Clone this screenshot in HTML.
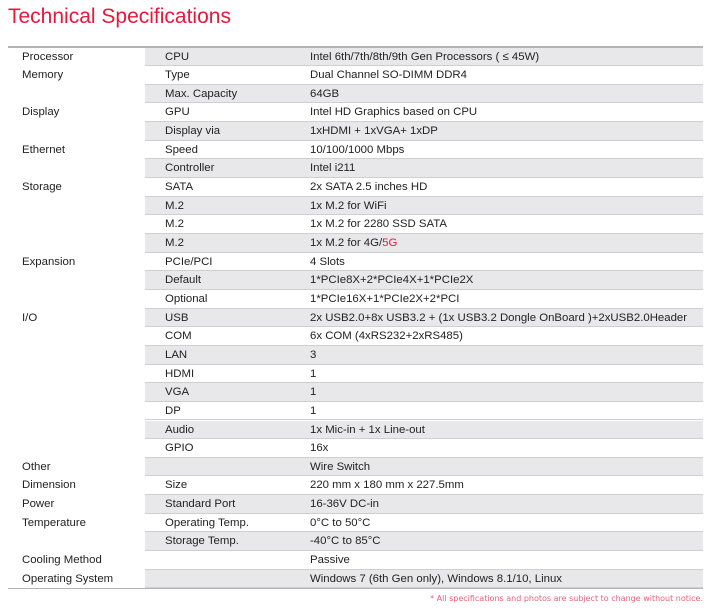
<!DOCTYPE html>
<html><head><meta charset="utf-8"><style>
body{margin:0;background:#fff;width:716px;height:614px;position:relative;font-family:"Liberation Sans",Arial,sans-serif;overflow:hidden}
.t{position:absolute;left:8px;top:5px;font-size:21px;color:#e8173c;font-family:"Liberation Sans",sans-serif}
.top{position:absolute;left:8px;top:46px;width:695px;height:1.5px;background:#b4b4b4}
.bot{position:absolute;left:8px;top:587.5px;width:695px;height:1.5px;background:#b4b4b4}
.r{position:absolute;left:8px;width:695px;height:18.65px;font-size:11.4px;color:#222;line-height:18.65px}
.r .g{position:absolute;left:137px;right:0;top:0;bottom:0;border-bottom:1px solid #cfcfcf;box-sizing:border-box}
.r.e .g{background:#e8e8ea}
.r span{position:absolute;top:0;white-space:nowrap}
.a{left:14px}.b{left:157px}.c{left:302px}
.f{position:absolute;right:13px;top:594px;font-size:8px;color:#e8607a;font-family:"DejaVu Sans",sans-serif}
</style></head><body>
<div class="t">Technical Specifications</div>
<div class="top"></div>
<div id="rows"></div>
<div class="bot"></div>
<div class="f">* All specifications and photos are subject to change without notice.</div>
<script>
var d=[["Processor","CPU","Intel 6th/7th/8th/9th Gen Processors ( ≤ 45W)"],["Memory","Type","Dual Channel SO-DIMM DDR4"],["","Max. Capacity","64GB"],["Display","GPU","Intel HD Graphics based on CPU"],["","Display via","1xHDMI + 1xVGA+ 1xDP"],["Ethernet","Speed","10/100/1000 Mbps"],["","Controller","Intel i211"],["Storage","SATA","2x SATA 2.5 inches HD"],["","M.2","1x M.2 for WiFi"],["","M.2","1x M.2 for 2280 SSD SATA"],["","M.2","1x M.2 for 4G/<b style='color:#e8173c;font-weight:normal'>5G</b>"],["Expansion","PCIe/PCI","4 Slots"],["","Default","1*PCIe8X+2*PCIe4X+1*PCIe2X"],["","Optional","1*PCIe16X+1*PCIe2X+2*PCI"],["I/O","USB","2x USB2.0+8x USB3.2 + (1x USB3.2 Dongle OnBoard )+2xUSB2.0Header"],["","COM","6x COM (4xRS232+2xRS485)"],["","LAN","3"],["","HDMI","1"],["","VGA","1"],["","DP","1"],["","Audio","1x Mic-in + 1x Line-out"],["","GPIO","16x"],["Other","","Wire Switch"],["Dimension","Size","220 mm x 180 mm x 227.5mm"],["Power","Standard Port","16-36V DC-in"],["Temperature","Operating Temp.","0°C to 50°C"],["","Storage Temp.","-40°C to 85°C"],["Cooling Method","","Passive"],["Operating System","","Windows 7 (6th Gen only), Windows 8.1/10, Linux"]];
var h="";d.forEach(function(r,i){h+='<div class="r'+(i%2==0?' e':'')+'" style="top:'+(47.5+i*18.65)+'px"><div class="g"></div><span class="a">'+r[0]+'</span><span class="b">'+r[1]+'</span><span class="c">'+r[2]+'</span></div>';});
document.getElementById("rows").innerHTML=h;
</script>
</body></html>
